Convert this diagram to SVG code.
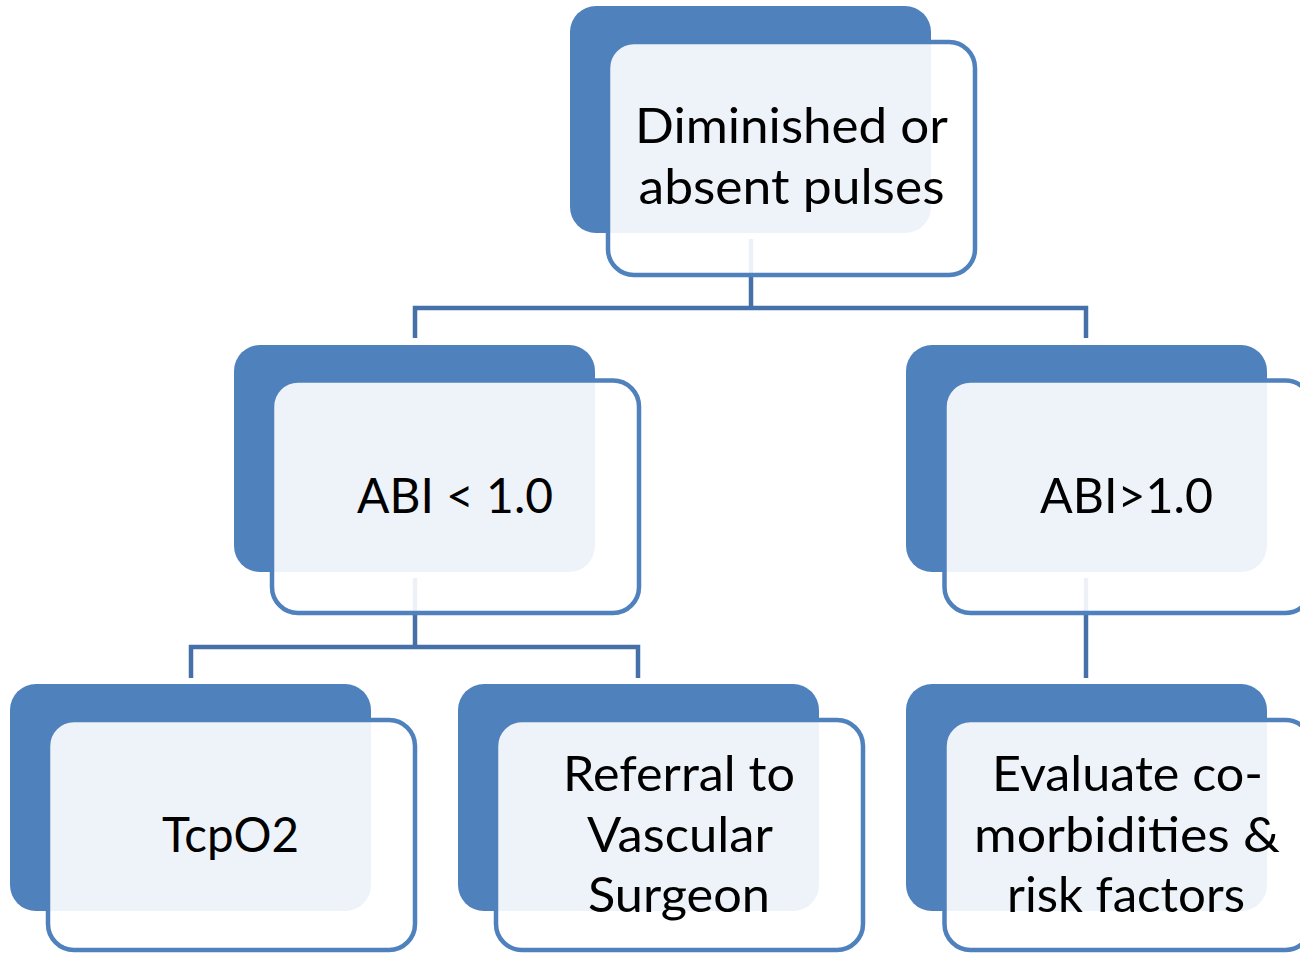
<svg xmlns="http://www.w3.org/2000/svg" width="1300" height="953" viewBox="0 0 1300 953">
<style>
.back{fill:#4F81BD;}
.front{fill:#FFFFFF;fill-opacity:0.9;stroke:#4F81BD;stroke-width:4.5;}
.conn{fill:none;stroke:#4571A8;stroke-width:4.5;stroke-linejoin:miter;}
.t{font-family:Lato,"Open Sans","Liberation Sans",sans-serif;font-size:48px;fill:#000000;text-anchor:middle;}
</style>
<rect width="1300" height="953" fill="#FFFFFF"/>
<g id="connectors">
<path class="conn" d="M751 239 V308"/>
<path class="conn" d="M415 338 V308 H1086 V338"/>
<path class="conn" d="M415 578 V647"/>
<path class="conn" d="M191 678 V647 H638 V678"/>
<path class="conn" d="M1086 578 V678"/>
</g>
<g id="node-pulses">
<rect class="back" x="570" y="6" width="361" height="227" rx="26"/>
<rect class="front" x="608" y="42" width="367" height="233" rx="26"/>
<text class="t" x="791.5" y="143" textLength="313" lengthAdjust="spacingAndGlyphs">Diminished or</text>
<text class="t" x="791.5" y="204" textLength="306" lengthAdjust="spacingAndGlyphs">absent pulses</text>
</g>
<g id="node-abi-low">
<rect class="back" x="234" y="345" width="361" height="227" rx="26"/>
<rect class="front" x="272" y="380.5" width="367" height="232.5" rx="26"/>
<text class="t" x="455" y="513" textLength="196" lengthAdjust="spacingAndGlyphs">ABI &lt; 1.0</text>
</g>
<g id="node-abi-high">
<rect class="back" x="906" y="345" width="361" height="227" rx="26"/>
<rect class="front" x="944.5" y="380.5" width="367" height="232.5" rx="26"/>
<text class="t" x="1126.5" y="513" textLength="173" lengthAdjust="spacingAndGlyphs">ABI&gt;1.0</text>
</g>
<g id="node-tcpo2">
<rect class="back" x="10" y="684" width="361" height="227" rx="26"/>
<rect class="front" x="48" y="720" width="367" height="230" rx="26"/>
<text class="t" x="230.5" y="852" textLength="137" lengthAdjust="spacingAndGlyphs">TcpO2</text>
</g>
<g id="node-referral">
<rect class="back" x="458" y="684" width="361" height="227" rx="26"/>
<rect class="front" x="496" y="720" width="367" height="230" rx="26"/>
<text class="t" x="679" y="791" textLength="232" lengthAdjust="spacingAndGlyphs">Referral to</text>
<text class="t" x="680" y="852" textLength="186" lengthAdjust="spacingAndGlyphs">Vascular</text>
<text class="t" x="679" y="912" textLength="182" lengthAdjust="spacingAndGlyphs">Surgeon</text>
</g>
<g id="node-evaluate">
<rect class="back" x="906" y="684" width="361" height="227" rx="26"/>
<rect class="front" x="944.5" y="720" width="367" height="230" rx="26"/>
<text class="t" x="1127.5" y="791" textLength="271" lengthAdjust="spacingAndGlyphs">Evaluate co-</text>
<text class="t" x="1127" y="852" textLength="306" lengthAdjust="spacingAndGlyphs">morbidities &amp;</text>
<text class="t" x="1126" y="912" textLength="238" lengthAdjust="spacingAndGlyphs">risk factors</text>
</g>
</svg>
